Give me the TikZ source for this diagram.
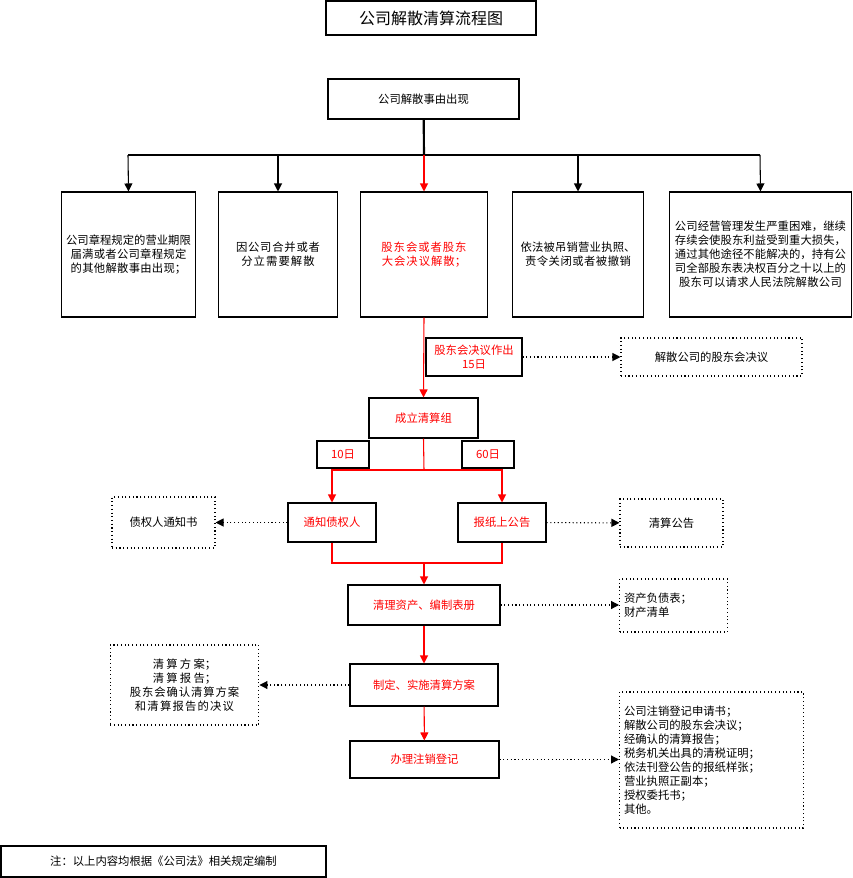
\documentclass[tikz,border=0pt]{standalone}
\usepackage{fontspec}
\setmainfont{Noto Sans CJK SC}
\XeTeXlinebreaklocale "zh"
\XeTeXlinebreakskip=0pt plus 1pt
\usetikzlibrary{arrows.meta}
\begin{document}
\begin{tikzpicture}[x=0.75pt,y=-0.75pt,
    box/.style = {draw,thick,font=\fontsize{8.5}{10.5}\selectfont,align=center},
    dotbox/.style = {draw,thick,dotted,font=\fontsize{8.5}{10.5}\selectfont,align=center},
    arrow/.style = {thick,-{Triangle[length=6pt,width=6pt]}},
    dotarrow/.style = {thick,dotted,-{Triangle[length=6pt,width=6pt]}},
    redarrow/.style = {red,thick,-{Triangle[length=6pt,width=6pt]}}]
    \useasboundingbox (0,0) rectangle (853,878);
    % title and top
    \node[box,font=\fontsize{12}{14}\selectfont,minimum width=210*0.75pt,minimum height=34*0.75pt] (title) at (431,18) {公司解散清算流程图};
    \node[box,minimum width=191*0.75pt,minimum height=40*0.75pt] (cause) at (423.5,99) {公司解散事由出现};
    % five reasons
    \node[box,text width=125*0.75pt,minimum width=133*0.75pt,minimum height=125*0.75pt] (r1) at (128.5,254.5) {公司章程规定的营业期限届满或者公司章程规定的其他解散事由出现；};
    \node[box,text width=110*0.75pt,minimum width=116*0.75pt,minimum height=125*0.75pt] (r2) at (278,254.5) {因公司合并或者分立需要解散};
    \node[box,text=red,text width=118*0.75pt,minimum width=124*0.75pt,minimum height=125*0.75pt] (r3) at (424,254.5) {股东会或者股东大会决议解散；};
    \node[box,text width=122*0.75pt,minimum width=128*0.75pt,minimum height=125*0.75pt] (r4) at (578,254.5) {依法被吊销营业执照、责令关闭或者被撤销};
    \node[box,text width=174*0.75pt,minimum width=181*0.75pt,minimum height=125*0.75pt] (r5) at (760.5,254.5) {公司经营管理发生严重困难，继续存续会使股东利益受到重大损失，通过其他途径不能解决的，持有公司全部股东表决权百分之十以上的股东可以请求人民法院解散公司};
    \coordinate (split) at (424,155);
    \draw[ultra thick] (cause) -- (split);
    \draw[thick] (128,155) -- (760,155);
    \draw[arrow] (128,155) -- (r1.north);
    \draw[arrow] (278,155) -- (r2.north);
    \draw[redarrow] (split) -- (r3.north);
    \draw[arrow] (578,155) -- (r4.north);
    \draw[arrow] (760,155) -- (r5.north);
    % liquidation group
    \node[box,text=red,minimum width=109*0.75pt,minimum height=40*0.75pt] (group) at (423.5,418) {成立清算组};
    \draw[redarrow] (r3.south) -- (group.north);
    \node[box,text=red,minimum width=96*0.75pt,minimum height=38*0.75pt] (days15) at (474,357) {股东会决议作出\\15日};
    \node[dotbox,minimum width=181*0.75pt,minimum height=38*0.75pt] (resolution) at (711.5,357) {解散公司的股东会决议};
    \draw[dotarrow] (days15) -- (resolution);
    % notify and announce
    \node[box,text=red,minimum width=88*0.75pt,minimum height=39*0.75pt] (notify) at (332,522.5) {通知债权人};
    \node[box,text=red,minimum width=88*0.75pt,minimum height=39*0.75pt] (paper) at (502,522.5) {报纸上公告};
    \node[box,text=red,minimum width=52*0.75pt,minimum height=27*0.75pt] (days10) at (343,454.5) {10日};
    \node[box,text=red,minimum width=52*0.75pt,minimum height=27*0.75pt] (days60) at (488,454.5) {60日};
    \coordinate (fork) at (424,470);
    \draw[red,thick] (group.south) -- (fork);
    \draw[redarrow] (fork) -| (notify.north);
    \draw[redarrow] (fork) -| (paper.north);
    \node[dotbox,minimum width=103*0.75pt,minimum height=51*0.75pt] (creditor) at (163.5,522.5) {债权人通知书};
    \node[dotbox,minimum width=103*0.75pt,minimum height=48*0.75pt] (notice) at (671.5,523) {清算公告};
    \draw[dotarrow] (notify) -- (creditor);
    \draw[dotarrow] (paper) -- (notice);
    % main chain
    \node[box,text=red,minimum width=152*0.75pt,minimum height=40*0.75pt] (assets) at (424,605) {清理资产、编制表册};
    \node[box,text=red,minimum width=148*0.75pt,minimum height=42*0.75pt] (plan) at (424,685) {制定、实施清算方案};
    \node[box,text=red,minimum width=149*0.75pt,minimum height=37*0.75pt] (cancel) at (424.5,759.5) {办理注销登记};
    \coordinate (join) at (424,563);
    \draw[red,thick] (notify.south) |- (join) -| (paper.south);
    \draw[redarrow] (join) -- (assets.north);
    \draw[redarrow] (assets) -- (plan);
    \draw[redarrow] (plan) -- (cancel);
    % side documents
    \node[dotbox,align=left,text width=99*0.75pt,minimum width=105*0.75pt,minimum height=53*0.75pt] (sheet) at (673.5,605.5) {资产负债表；\\财产清单};
    \node[dotbox,text width=140*0.75pt,minimum width=145*0.75pt,minimum height=80*0.75pt] (report) at (184.5,685) {清算方案；\\清算报告；\\股东会确认清算方案和清算报告的决议};
    \node[dotbox,align=left,text width=175*0.75pt,minimum width=181*0.75pt,minimum height=136*0.75pt] (docs) at (711.5,760) {公司注销登记申请书；\\解散公司的股东会决议；\\经确认的清算报告；\\税务机关出具的清税证明；\\依法刊登公告的报纸样张；\\营业执照正副本；\\授权委托书；\\其他。};
    \draw[dotarrow] (assets) -- (sheet.west |- assets);
    \draw[dotarrow] (plan) -- (report);
    \draw[dotarrow] (cancel) -- (docs.west |- cancel);
    % footnote
    \node[box,minimum width=325*0.75pt,minimum height=31*0.75pt] (remark) at (163.5,861.5) {注：以上内容均根据《公司法》相关规定编制};
\end{tikzpicture}
\end{document}
